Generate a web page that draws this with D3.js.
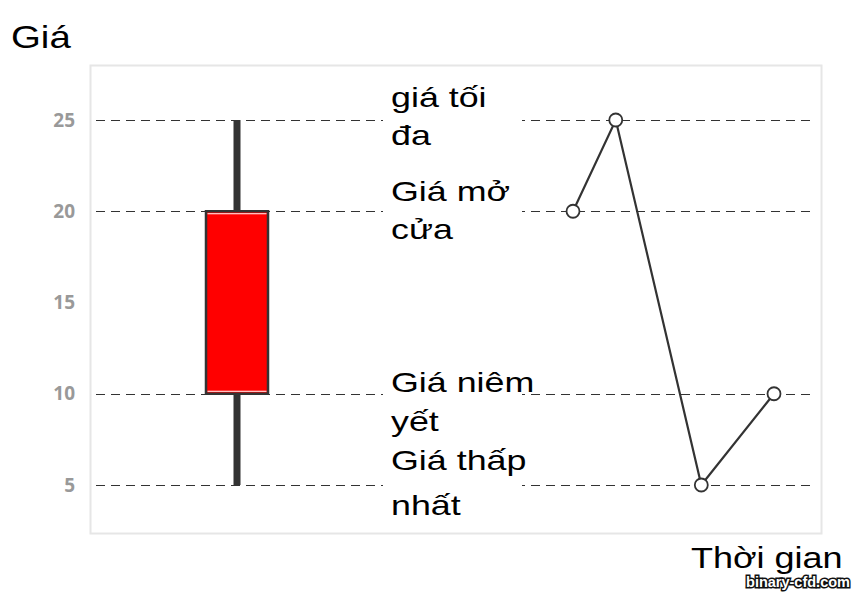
<!DOCTYPE html>
<html>
<head>
<meta charset="utf-8">
<script src="https://cdn.jsdelivr.net/npm/d3@7"></script>
<style>
  body { margin: 0; background: #fff; }
  svg { display: block; }
</style>
</head>
<body>
<div id="chart"></div>
<script>
// candle values: open, high, low, close
const priceTicks = [5, 10, 15, 20, 25];
const gridTicks = [5, 10, 20, 25];
const ohlcNames = ['open', 'high', 'low', 'close'];
const ohlcValues = [20, 25, 5, 10];
const timeSteps = [1, 2, 4, 5.7];
const labelLines = [
  ['giá tối', 'đa'],
  ['Giá mở', 'cửa'],
  ['Giá niêm', 'yết'],
  ['Giá thấp', 'nhất']
];
const labelValues = [25, 20, 10, 5];
const yTitle = 'Giá';
const xTitle = 'Thời gian';
const watermark = 'binary-cfd.com';

const width = 861;
const height = 601;
const font = '"Liberation Sans", Arial, sans-serif';
const stretch = 1.2;

const svg = d3.select('#chart')
    .append('svg')
    .attr('width', width)
    .attr('height', height);

const ohlc = {};
ohlcNames.forEach((n, i) => ohlc[n] = ohlcValues[i]);

const y = d3.scaleLinear()
    .domain([5, 25])
    .range([485, 120]);

const x = d3.scaleLinear()
    .domain([timeSteps[0], timeSteps[timeSteps.length - 1]])
    .range([573, 774]);

// plot frame
svg.append('rect')
    .attr('x', 90.5)
    .attr('y', 65.5)
    .attr('width', 731)
    .attr('height', 468)
    .attr('fill', '#fff')
    .attr('stroke', '#e6e6e6')
    .attr('stroke-width', 2);

// dashed grid
svg.append('g')
    .selectAll('line')
    .data(gridTicks)
    .join('line')
    .attr('x1', 96)
    .attr('x2', 810)
    .attr('y1', (d) => Math.round(y(d)) + 0.5)
    .attr('y2', (d) => Math.round(y(d)) + 0.5)
    .attr('stroke', '#333')
    .attr('stroke-width', 1)
    .attr('stroke-dasharray', '9,6');

// y axis labels
const yAxis = svg.append('g')
    .attr('transform', 'translate(78,0)')
    .call(d3.axisLeft(y).tickValues(priceTicks).tickSize(0).tickPadding(3));
yAxis.select('.domain').remove();
yAxis.selectAll('text')
    .attr('font-family', '"Open Sans", sans-serif')
    .attr('font-weight', 700)
    .attr('font-size', 19)
    .attr('fill', '#999');

// candle
const cx = 237;
svg.append('rect')
    .attr('x', cx - 3.5)
    .attr('width', 7)
    .attr('y', y(ohlc.high))
    .attr('height', y(ohlc.low) - y(ohlc.high))
    .attr('fill', '#333');

const bodyTop = y(Math.max(ohlc.open, ohlc.close));
const bodyBot = y(Math.min(ohlc.open, ohlc.close));
svg.append('rect')
    .attr('x', 206)
    .attr('width', 62)
    .attr('y', bodyTop)
    .attr('height', bodyBot - bodyTop)
    .attr('fill', ohlc.close < ohlc.open ? '#ff0000' : '#00aa00')
    .attr('stroke', '#333')
    .attr('stroke-width', 2.5);
svg.append('g')
    .selectAll('line')
    .data([bodyTop + 2.5, bodyBot - 2.5])
    .join('line')
    .attr('x1', 207.5)
    .attr('x2', 266.5)
    .attr('y1', (d) => d)
    .attr('y2', (d) => d)
    .attr('stroke', '#fff')
    .attr('stroke-width', 1);

// white panel behind the labels
svg.append('rect')
    .attr('x', 383)
    .attr('y', 75)
    .attr('width', 139)
    .attr('height', 452)
    .attr('fill', '#fff');

// labels
const lineOffset = [-13, -10, -2, -15];
const lineGap = [38, 38, 39, 45];
labelLines.forEach((lines, i) => {
  lines.forEach((t, j) => {
    svg.append('text')
        .attr('transform', `translate(391,${y(labelValues[i]) + lineOffset[i] +
          j * lineGap[i]}) scale(1.28,1)`)
        .attr('font-family', font)
        .attr('font-size', 28)
        .attr('fill', '#000')
        .text(t);
  });
});

// price path
const pts = timeSteps.map((t, i) => [x(t), y(ohlcValues[i])]);
svg.append('path')
    .datum(pts)
    .attr('d', d3.line())
    .attr('fill', 'none')
    .attr('stroke', '#333')
    .attr('stroke-width', 2.2);
svg.append('g')
    .selectAll('circle')
    .data(pts)
    .join('circle')
    .attr('cx', (d) => d[0])
    .attr('cy', (d) => d[1])
    .attr('r', 6.5)
    .attr('fill', '#fff')
    .attr('stroke', '#333')
    .attr('stroke-width', 1.8);

// titles
svg.append('text')
    .attr('transform', `translate(11,48) scale(${stretch},1)`)
    .attr('font-family', font)
    .attr('font-size', 32)
    .attr('fill', '#000')
    .text(yTitle);

svg.append('text')
    .attr('transform', `translate(691,568) scale(${stretch},1)`)
    .attr('font-family', font)
    .attr('font-size', 30)
    .attr('fill', '#000')
    .text(xTitle);

svg.append('text')
    .attr('x', 798)
    .attr('y', 587)
    .attr('text-anchor', 'middle')
    .attr('font-family', font)
    .attr('font-weight', 700)
    .attr('font-size', 14.5)
    .attr('fill', '#fff')
    .attr('stroke', '#111')
    .attr('stroke-width', 3)
    .attr('paint-order', 'stroke')
    .text(watermark);
</script>
</body>
</html>
